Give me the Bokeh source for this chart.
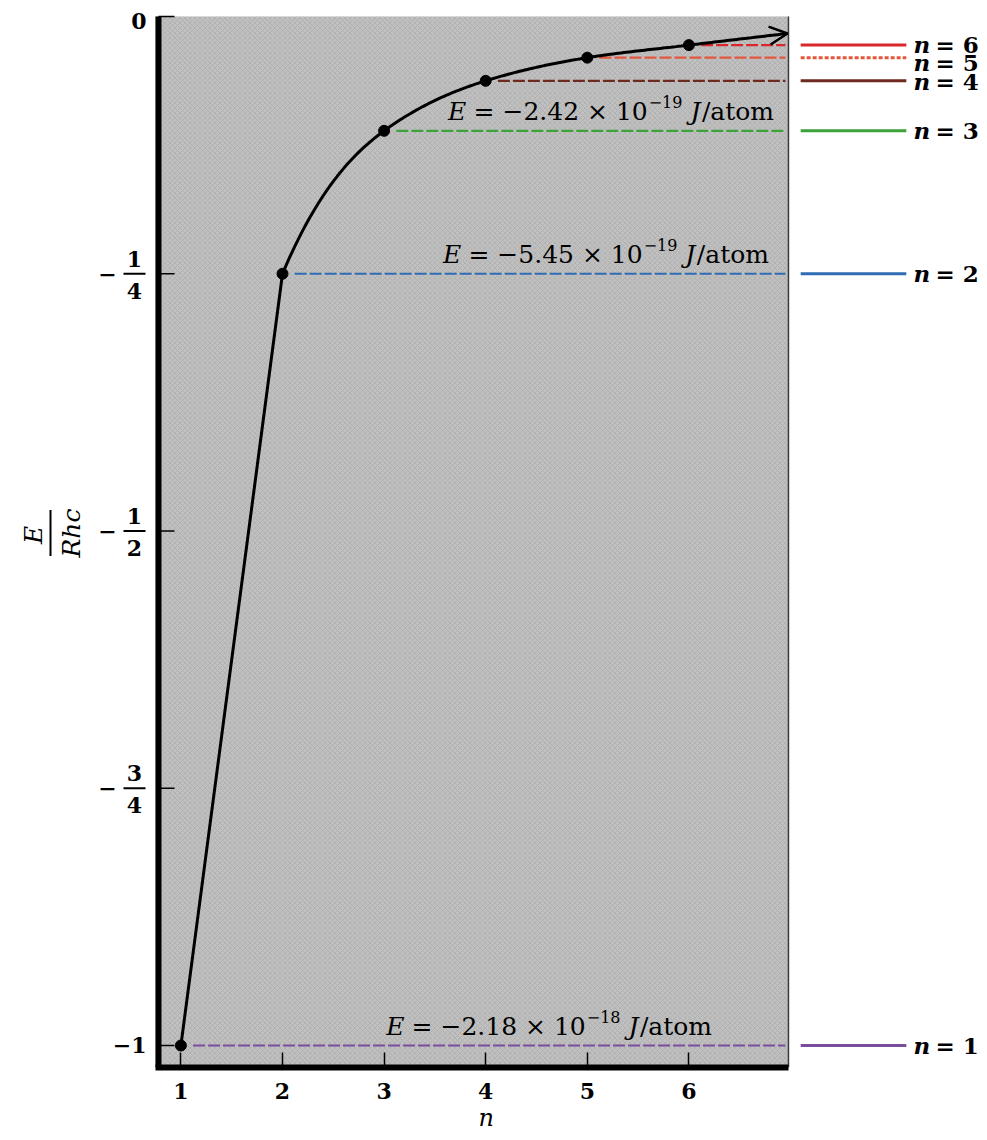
import numpy as np
from bokeh.plotting import figure
from bokeh.layouts import row
from bokeh.models import ColumnDataSource, Label, Arrow, OpenHead, FixedTicker, Range1d, Title
from bokeh.core.properties import value
from bokeh.embed import file_html
from bokeh.resources import INLINE

# Hydrogen energy levels, E / Rhc
levels = [1, 2, 3, 4, 5, 6]
energy = [-1.0, -0.25, -0.1111, -0.0625, -0.04, -0.0278]
level_names = ["1", "2", "3", "4", "5", "6"]
level_colors = ["#7a4c9e", "#2f6cb4", "#3da23a", "#6e2a1e", "#e4573f", "#d8282c"]
key_dash = ["solid", "solid", "solid", "solid", "4 2", "solid"]

# arrow at the end of the curve (n -> large, E -> 0)
tail_n = 6.97
tail_e = -0.0165

# energies written out in J/atom
annot_levels = [1, 2, 3]
annot_mantissa = ["2.18", "5.45", "2.42"]
annot_exponent = ["−18", "−19", "−19"]

# vertical axis ticks
y_ticks = [0, -0.25, -0.5, -0.75, -1]
whole_ticks = [0, -1]
whole_labels = ["0", "−1"]
frac_ticks = [-0.25, -0.5, -0.75]
frac_num = ["1", "1", "3"]
frac_den = ["4", "2", "4"]

SERIF = "DejaVu Serif"
W_TOTAL, H_TOTAL = 987, 1140
LEFT_W = 147          # strip holding the vertical tick labels and title
TOP, BOTTOM = 4, 73   # space above / below the plotting frames
PXN = 101.6           # pixels per unit n
PXE = 1029.0          # pixels per unit E
X0, X_GRAY = 0.75, 6.98
Y_BOT = -1.0 - 22 / PXE
Y_TOP = 12 / PXE
y_main = Range1d(Y_BOT, Y_TOP)

# ---- main plot -------------------------------------------------------------
MAIN_W = W_TOTAL - LEFT_W
FRAME_W = MAIN_W - 3 - 2
x_start = X0 - 5 / PXN
p = figure(width=MAIN_W, height=H_TOTAL, output_backend="svg", toolbar_location=None,
           title=None, x_range=Range1d(x_start, x_start + FRAME_W / PXN), y_range=y_main,
           y_axis_location=None,
           min_border_left=3, min_border_right=2, min_border_top=TOP,
           min_border_bottom=BOTTOM)
p.outline_line_color = None
p.grid.visible = False
p.background_fill_color = "white"
p.border_fill_color = "white"

# shaded plotting area
p.quad(left=[X0], right=[X_GRAY], bottom=[Y_BOT], top=[0.0],
       fill_color="#c0c0c0", line_color=None,
       hatch_pattern="diagonal_cross", hatch_color="#a6a6a6",
       hatch_scale=5, hatch_weight=0.8, hatch_alpha=0.7)
p.segment(x0=[X_GRAY], y0=[Y_BOT], x1=[X_GRAY], y1=[0.0],
          line_color="#3a3a3a", line_width=1.5)

# vertical axis: heavy rule with inward ticks
p.segment(x0=[X0 + 3 / PXN], y0=[Y_BOT], x1=[X0 + 3 / PXN], y1=[0.0],
          line_color="black", line_width=6)
p.segment(x0=X0 + 3 / PXN, y0=y_ticks, x1=X0 + 19 / PXN, y1=y_ticks,
          line_color="black", line_width=1.5)

# horizontal axis
ax = p.xaxis[0]
ax.ticker = FixedTicker(ticks=levels)
ax.bounds = (X0, X_GRAY)
ax.axis_line_width = 6
ax.axis_line_color = "black"
ax.major_tick_in = 15
ax.major_tick_out = 0
ax.major_tick_line_width = 1.5
ax.minor_tick_line_color = None
ax.major_label_standoff = 15
ax.major_label_text_font = SERIF
ax.major_label_text_font_style = "bold"
ax.major_label_text_font_size = "22px"
ax.major_label_text_color = "black"
p.add_layout(Title(text="n", align="left", offset=328, standoff=0,
                   text_font=SERIF, text_font_style="italic", text_font_size="24px",
                   text_color="black"), "below")

# dashed level lines from each point to the right edge
p.segment(x0=[n + 0.12 for n in levels], y0=energy, x1=[6.95] * 6, y1=energy,
          line_color=level_colors, line_width=2.2, line_dash="12 3")

# level key on the right
for e, col, dash in zip(energy, level_colors, key_dash):
    p.segment(x0=[7.10], y0=[e], x1=[8.14], y1=[e], line_color=col, line_width=3,
              line_dash=dash)
key_src = ColumnDataSource(dict(y=energy, name=["= " + s for s in level_names],
                                dy=[0, 0, 0, 1, 5, -1]))
p.text(x=8.21, y="y", text=value("n"), y_offset="dy", source=key_src,
       text_font=value(SERIF), text_font_style="bold italic", text_font_size="23px",
       text_baseline="middle", text_align="left", text_color="black")
p.text(x=8.21, y="y", text="name", x_offset=22, y_offset="dy", source=key_src,
       text_font=value(SERIF), text_font_style="bold", text_font_size="23px",
       text_baseline="middle", text_align="left", text_color="black")

# curve through the levels: straight from n=1 to n=2, smooth cubic after
xs = np.array(levels + [tail_n], dtype=float)
ys = np.array(energy + [tail_e], dtype=float)
h = np.diff(xs)
d = np.diff(ys) / h
m = np.zeros_like(xs)
for k in range(1, len(xs) - 1):
    w1, w2 = 2 * h[k] + h[k - 1], h[k] + 2 * h[k - 1]
    m[k] = (w1 + w2) / (w1 / d[k - 1] + w2 / d[k])
m[-1] = d[-1]
cx, cy = [xs[0], xs[1]], [ys[0], ys[1]]
t = np.linspace(0, 1, 40)[1:]
for k in range(1, len(xs) - 1):
    hk = h[k]
    h00 = 2 * t**3 - 3 * t**2 + 1
    h10 = t**3 - 2 * t**2 + t
    h01 = -2 * t**3 + 3 * t**2
    h11 = t**3 - t**2
    cx.extend(xs[k] + t * hk)
    cy.extend(h00 * ys[k] + h10 * hk * m[k] + h01 * ys[k + 1] + h11 * hk * m[k + 1])
p.line(cx, cy, line_color="black", line_width=3)
p.add_layout(Arrow(end=OpenHead(size=18, line_width=2.5, line_color="black"),
                   x_start=cx[-3], y_start=cy[-3], x_end=tail_n, y_end=tail_e,
                   line_color="black", line_width=3))
p.scatter(levels, energy, size=11, color="black")

# energies in J/atom above the n = 1, 2, 3 lines
W = {c: 0.636 for c in "0123456789"}
W.update({" ": 0.318, ".": 0.318, "=": 0.838, "×": 0.838, "−": 0.838,
          "/": 0.337, "a": 0.596, "t": 0.401, "o": 0.602, "m": 0.948})
WI = {"E": 0.70, "J": 0.46}
annot_left = [3.02, 3.58, 3.63]
F = 25
SUP = 16
RISE = 19


def width(s, size):
    return sum(W[c] for c in s) * size


for lev, mant, expo, xl in zip(annot_levels, annot_mantissa, annot_exponent, annot_left):
    e = energy[lev - 1]
    base = dict(x=xl, y=e, text_font=SERIF, text_baseline="alphabetic",
                text_align="left", text_color="black")
    off = 0.0
    p.add_layout(Label(text="E", x_offset=off, y_offset=RISE, text_font_style="italic",
                       text_font_size=f"{F}px", **base))
    off += (WI["E"] + W[" "]) * F
    body = "= −" + mant + " × 10"
    p.add_layout(Label(text=body, x_offset=off, y_offset=RISE,
                       text_font_size=f"{F}px", **base))
    off += width(body, F) + 1
    p.add_layout(Label(text=expo, x_offset=off, y_offset=RISE + 10,
                       text_font_size=f"{SUP}px", **base))
    off += width(expo, SUP) + W[" "] * F
    p.add_layout(Label(text="J", x_offset=off, y_offset=RISE, text_font_style="italic",
                       text_font_size=f"{F}px", **base))
    off += WI["J"] * F
    p.add_layout(Label(text="/atom", x_offset=off, y_offset=RISE,
                       text_font_size=f"{F}px", **base))

# ---- strip with the vertical tick labels and the E/Rhc title ----------------
q = figure(width=LEFT_W, height=H_TOTAL, output_backend="svg", toolbar_location=None,
           title=None, x_range=Range1d(0, LEFT_W), y_range=y_main,
           x_axis_location=None, y_axis_location=None,
           min_border_left=0, min_border_right=0, min_border_top=TOP,
           min_border_bottom=BOTTOM)
q.outline_line_color = None
q.grid.visible = False
q.background_fill_color = "white"
q.border_fill_color = "white"

lbl = dict(text_font=value(SERIF), text_font_style="bold", text_font_size="22px",
           text_color="black", text_baseline="middle")
q.text(x=[146] * len(whole_ticks), y=whole_ticks, text=whole_labels,
       y_offset=[4, -1], text_align="right", **lbl)
q.text(x=[107] * len(frac_ticks), y=frac_ticks, text=["−"] * len(frac_ticks),
       text_align="center", **lbl)
q.text(x=[134] * len(frac_ticks), y=frac_ticks, text=frac_num, y_offset=-15,
       text_align="center", **lbl)
q.text(x=[134] * len(frac_ticks), y=frac_ticks, text=frac_den, y_offset=17,
       text_align="center", **lbl)
q.segment(x0=123, y0=frac_ticks, x1=145, y1=frac_ticks, line_color="black", line_width=2)

# E / Rhc, written as a fraction turned on its side
ymid = -0.5
ttl = dict(text_font=value(SERIF), text_font_style="italic", text_font_size="25px",
           text_color="black", text_align="center", text_baseline="middle", angle=np.pi / 2)
q.text(x=[33], y=[ymid], text=["E"], y_offset=4, **ttl)
q.text(x=[71], y=[ymid], text=["Rhc"], y_offset=2, **ttl)
q.segment(x0=[50], y0=[ymid + 21 / PXE], x1=[50], y1=[ymid - 25 / PXE],
          line_color="black", line_width=2)

layout = row(q, p, spacing=0)
open("out.html", "w").write(file_html(layout, INLINE))
